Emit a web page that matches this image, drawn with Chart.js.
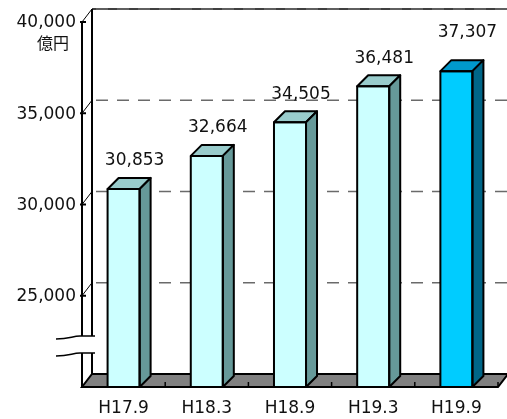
<!DOCTYPE html>
<html>
<head>
<meta charset="utf-8">
<script src="https://cdn.jsdelivr.net/npm/chart.js@4/dist/chart.umd.min.js"></script>
<style>
  html, body { margin: 0; padding: 0; background: #fff; }
  #wrap { width: 507px; height: 419px; }
</style>
</head>
<body>
<div id="wrap"><canvas id="c" width="507" height="419"></canvas></div>
<script>
// Outstanding balance by period (億円)
const categories = ['H17.9', 'H18.3', 'H18.9', 'H19.3', 'H19.9'];
const amounts = [30853, 32664, 34505, 36481, 37307];
const yTicks = [20000, 25000, 30000, 35000, 40000];
const unitLabel = '億円';

const FONT = '17px "DejaVu Sans", sans-serif';
const fmt = v => v.toLocaleString('en-US');

// Face colours: [front, top, side]
const plainFaces = ['#CCFFFF', '#99CCCC', '#669999'];
const hiFaces = ['#00CCFF', '#0099CC', '#006688'];
const faceSet = i => (i === categories.length - 1 ? hiFaces : plainFaces);

const wallDX = 10, wallDY = -13;   // depth of walls / floor
const barDX = 11, barDY = -11;     // depth of each bar

function line(ctx, x1, y1, x2, y2) {
  ctx.beginPath(); ctx.moveTo(x1, y1); ctx.lineTo(x2, y2); ctx.stroke();
}

const scene3d = {
  id: 'scene3d',
  beforeDatasetsDraw(chart) {
    const { ctx, chartArea: a, scales: { x, y } } = chart;
    const y0 = y.getPixelForValue(yTicks[0]);
    ctx.save();
    // floor
    ctx.fillStyle = '#808080';
    ctx.strokeStyle = '#000';
    ctx.lineWidth = 2;
    ctx.beginPath();
    ctx.moveTo(a.left, y0);
    ctx.lineTo(a.right, y0);
    ctx.lineTo(a.right + wallDX, y0 + wallDY);
    ctx.lineTo(a.left + wallDX, y0 + wallDY);
    ctx.closePath();
    ctx.fill(); ctx.stroke();
    // category separators on the floor
    ctx.lineWidth = 1.5;
    for (let i = 1; i <= categories.length; i++) {
      const bx = a.left + (a.right - a.left) * i / categories.length;
      line(ctx, bx, y0, bx, y0 - 5);
    }
    // back-wall gridlines
    ctx.lineWidth = 1.5;
    yTicks.slice(1).forEach((t, k) => {
      const py = y.getPixelForValue(t) + wallDY;
      if (k === yTicks.length - 2) {
        ctx.strokeStyle = '#000';
        ctx.setLineDash([]);
        line(ctx, a.left + wallDX, py, 507, py);
      }
      ctx.strokeStyle = '#6a6a6a';
      ctx.setLineDash([12, 9]);
      line(ctx, a.left + wallDX + 4, py, 507, py);
      ctx.setLineDash([]);
    });
    // left wall: front and back axis lines, tick connectors
    const yTop = y.getPixelForValue(yTicks[yTicks.length - 1]);
    ctx.strokeStyle = '#000';
    ctx.lineWidth = 2;
    line(ctx, a.left, yTop, a.left, y0);
    line(ctx, a.left + wallDX, yTop + wallDY, a.left + wallDX, y0 + wallDY);
    ctx.lineWidth = 1;
    yTicks.slice(1).forEach(t => {
      const py = y.getPixelForValue(t);
      line(ctx, a.left, py, a.left + wallDX, py + wallDY);
      ctx.lineWidth = 2;
      line(ctx, a.left - 2, py, a.left + 4, py);
      ctx.lineWidth = 1;
    });
    // axis break
    const bTop = 336, bBot = 353;
    ctx.fillStyle = '#fff';
    ctx.fillRect(a.left - 4, bTop, wallDX + 9, bBot - bTop);
    ctx.strokeStyle = '#000';
    ctx.lineWidth = 1.5;
    [[bTop + 3, bTop], [bBot + 3, bBot]].forEach(([l, r]) => {
      ctx.beginPath();
      ctx.moveTo(56, l);
      ctx.bezierCurveTo(70, l, 72, r, 80, r);
      ctx.lineTo(a.left + wallDX + 3, r);
      ctx.stroke();
    });
    ctx.restore();
  },
  afterDatasetsDraw(chart) {
    const { ctx, scales: { y } } = chart;
    const meta = chart.getDatasetMeta(0);
    const base = y.getPixelForValue(yTicks[0]);
    ctx.save();
    ctx.strokeStyle = '#000';
    ctx.lineWidth = 2;
    ctx.lineJoin = 'round';
    meta.data.forEach((bar, i) => {
      const { x: cx, y: top, width } = bar.getProps(['x', 'y', 'width'], true);
      const l = cx - width / 2, r = cx + width / 2;
      const faces = faceSet(i);
      // top face
      ctx.fillStyle = faces[1];
      ctx.beginPath();
      ctx.moveTo(l, top); ctx.lineTo(r, top);
      ctx.lineTo(r + barDX, top + barDY); ctx.lineTo(l + barDX, top + barDY);
      ctx.closePath(); ctx.fill(); ctx.stroke();
      // side face
      ctx.fillStyle = faces[2];
      ctx.beginPath();
      ctx.moveTo(r, top); ctx.lineTo(r + barDX, top + barDY);
      ctx.lineTo(r + barDX, base + barDY); ctx.lineTo(r, base);
      ctx.closePath(); ctx.fill(); ctx.stroke();
      // front outline, drawn whole so the floor edge does not cut it
      ctx.strokeRect(l, top, width, base - top);
    });
    ctx.restore();
  },
  afterDraw(chart, args, opts) {
    const { ctx, chartArea: a, scales: { x, y } } = chart;
    const meta = chart.getDatasetMeta(0);
    ctx.save();
    ctx.fillStyle = '#111';
    ctx.font = FONT;
    ctx.textBaseline = 'middle';
    // y tick labels
    ctx.textAlign = 'right';
    yTicks.slice(1).forEach(t => ctx.fillText(fmt(t), a.left - 6, y.getPixelForValue(t) + 1));
    // unit
    ctx.textAlign = 'center';
    ctx.font = '16px "Noto Sans CJK JP", sans-serif';
    ctx.fillText(unitLabel, 53, y.getPixelForValue(yTicks[yTicks.length - 1]) + 21);
    // category labels
    ctx.font = FONT;
    categories.forEach((c, i) => ctx.fillText(c, x.getPixelForValue(i), 409));
    // value labels above bars
    meta.data.forEach((bar, i) => {
      ctx.fillText(fmt(amounts[i]), bar.x + 11, bar.y - opts.lift[i]);
    });
    ctx.restore();
  }
};

new Chart(document.getElementById('c'), {
  type: 'bar',
  data: {
    labels: categories,
    datasets: [{
      data: amounts,
      base: yTicks[0],
      backgroundColor: categories.map((_, i) => faceSet(i)[0]),
      borderColor: '#000',
      borderWidth: 0,
      barPercentage: 0.385,
      categoryPercentage: 1
    }]
  },
  options: {
    responsive: false,
    animation: false,
    devicePixelRatio: 1,
    layout: { padding: { left: 82, right: 9, top: 22, bottom: 32 } },
    scales: {
      x: { display: false },
      y: { display: false, min: yTicks[0], max: yTicks[yTicks.length - 1] }
    },
    plugins: {
      legend: { display: false },
      tooltip: { enabled: false },
      scene3d: { lift: [28, 28, 28, 28, 39] }
    }
  },
  plugins: [scene3d]
});
</script>
</body>
</html>
